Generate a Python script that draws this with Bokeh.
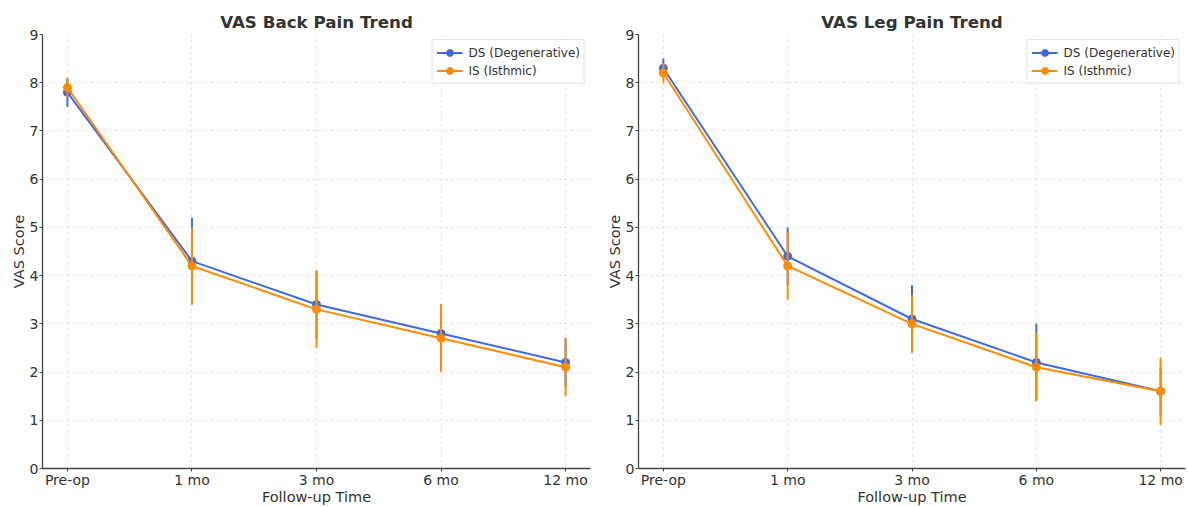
from bokeh.plotting import figure
from bokeh.layouts import row
from bokeh.models import Range1d, FixedTicker, ColumnDataSource
from bokeh.embed import file_html
from bokeh.resources import INLINE

timepoints = ["Pre-op", "1 mo", "3 mo", "6 mo", "12 mo"]
groups = ["DS (Degenerative)", "IS (Isthmic)"]
back_ds_mean = [7.8, 4.3, 3.4, 2.8, 2.2]
back_ds_sd = [0.3, 0.9, 0.7, 0.6, 0.5]
back_is_mean = [7.9, 4.2, 3.3, 2.7, 2.1]
back_is_sd = [0.2, 0.8, 0.8, 0.7, 0.6]
leg_ds_mean = [8.3, 4.4, 3.1, 2.2, 1.6]
leg_ds_sd = [0.2, 0.6, 0.7, 0.8, 0.5]
leg_is_mean = [8.2, 4.2, 3.0, 2.1, 1.6]
leg_is_sd = [0.2, 0.7, 0.6, 0.7, 0.7]

COLORS = ["#4169E1", "#FF8C00"]
FONT = "DejaVu Sans"
TXT = "#333333"


def make_panel(title, series, width, left_border, right_border):
    p = figure(width=width, height=507, output_backend="svg", toolbar_location=None,
               x_range=Range1d(-0.2, 4.2), y_range=Range1d(0, 9),
               min_border_left=left_border, min_border_right=right_border,
               min_border_top=34, min_border_bottom=0)
    p.title.text = title
    p.title.align = "center"
    p.title.text_font = FONT
    p.title.text_font_size = "16.7px"
    p.title.text_font_style = "bold"
    p.title.text_color = TXT
    p.title.standoff = 5
    p.outline_line_color = None
    p.background_fill_color = "white"
    p.border_fill_color = "white"

    xs = list(range(len(timepoints)))
    for (mean, sd), color, label in zip(series, COLORS, groups):
        lo = [m - s for m, s in zip(mean, sd)]
        hi = [m + s for m, s in zip(mean, sd)]
        src = ColumnDataSource(dict(x=xs, y=mean, lo=lo, hi=hi))
        p.segment(x0="x", y0="lo", x1="x", y1="hi", source=src,
                  line_color=color, line_width=2)
        p.line("x", "y", source=src, line_color=color, line_width=2,
               legend_label=label)
        p.scatter("x", "y", source=src, size=8, fill_color=color,
                  line_color=color, legend_label=label)

    p.xaxis.ticker = FixedTicker(ticks=xs)
    p.xaxis.major_label_overrides = {i: t for i, t in enumerate(timepoints)}
    p.yaxis.ticker = FixedTicker(ticks=list(range(10)))
    p.xaxis.axis_label = "Follow-up Time"
    p.yaxis.axis_label = "VAS Score"
    for ax in (p.xaxis[0], p.yaxis[0]):
        ax.axis_label_text_font = FONT
        ax.axis_label_text_font_size = "14.5px"
        ax.axis_label_text_font_style = "normal"
        ax.axis_label_text_color = TXT
        ax.major_label_text_font = FONT
        ax.major_label_text_font_size = "14px"
        ax.major_label_text_color = TXT
        ax.axis_line_color = "#444444"
        ax.axis_line_width = 1.3
        ax.major_tick_line_color = "#444444"
        ax.major_tick_out = 3
        ax.major_tick_in = 0
        ax.minor_tick_line_color = None
    p.xaxis[0].axis_label_standoff = -2
    p.xaxis[0].major_label_standoff = 0
    p.yaxis[0].axis_label_standoff = 0
    p.yaxis[0].major_label_standoff = 1

    for g in (p.xgrid[0], p.ygrid[0]):
        g.grid_line_color = "#dcdcdc"
        g.grid_line_dash = "3 3"
        g.grid_line_width = 0.8

    lg = p.legend[0]
    lg.location = "top_right"
    lg.label_text_font = FONT
    lg.label_text_font_size = "12px"
    lg.label_text_color = TXT
    lg.border_line_color = "#cccccc"
    lg.background_fill_alpha = 0.85
    lg.padding = 4
    lg.spacing = 1
    lg.margin = 5
    lg.glyph_width = 26
    lg.glyph_height = 17
    lg.label_height = 17
    lg.label_standoff = 6
    return p


p1 = make_panel("VAS Back Pain Trend",
                [(back_ds_mean, back_ds_sd), (back_is_mean, back_is_sd)],
                594, 42, 4)
p2 = make_panel("VAS Leg Pain Trend",
                [(leg_ds_mean, leg_ds_sd), (leg_is_mean, leg_is_sd)],
                594, 44, 3)

layout = row(p1, p2)
open("out.html", "w").write(file_html(layout, INLINE))
